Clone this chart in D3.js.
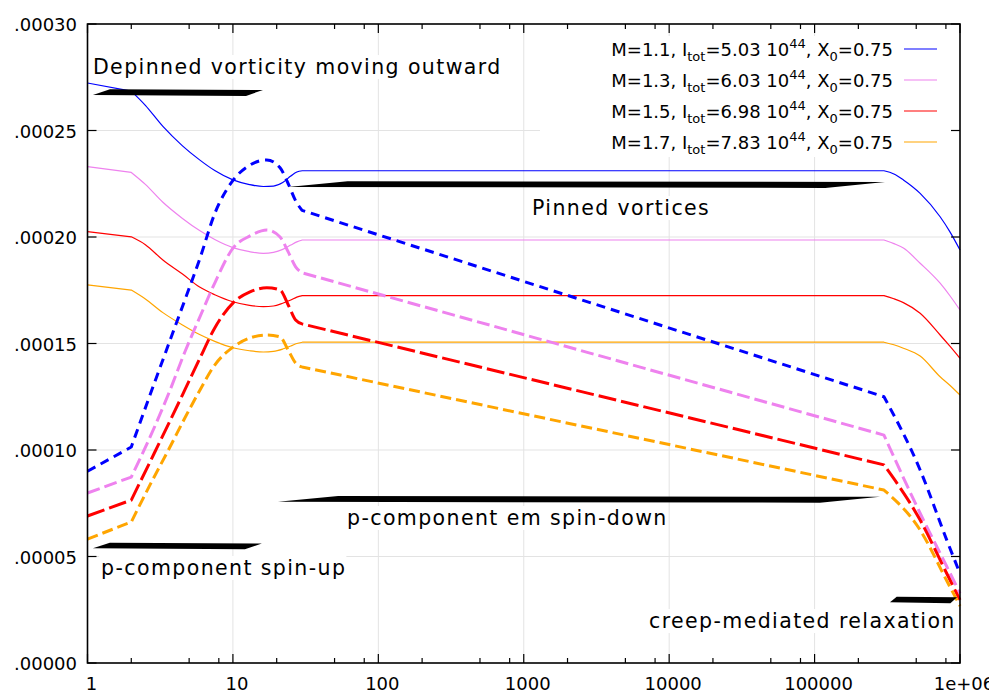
<!DOCTYPE html>
<html>
<head>
<meta charset="utf-8">
<script src="https://cdn.jsdelivr.net/npm/d3@7"></script>
<style>
  html, body { margin: 0; padding: 0; background: #fff; }
  svg { display: block; font-family: "DejaVu Sans", sans-serif; }
</style>
</head>
<body>
<svg id="chart" width="989" height="694"></svg>
<script>
// ---- data -------------------------------------------------------------
const xTicks = [1, 10, 100, 1000, 10000, 100000, 1000000];
const xTickLabels = ["1", "10", "100", "1000", "10000", "100000", "1e+06"];
const yTicks = [0, 0.00005, 0.0001, 0.00015, 0.0002, 0.00025, 0.0003];
const yTickLabels = [".00000", ".00005", ".00010", ".00015", ".00020", ".00025", ".00030"];

// total angular velocity lag (solid curves), shared time grid
const solidX = [1, 2, 2.5, 3.3, 4.5, 5.9, 7.5, 10, 13, 16.2, 19, 22, 25, 27.5, 30,
                300000, 351000, 408000, 532000, 730000, 855000, 1000000];
const solidM11 = [2.723e-4, 2.685e-4, 2.618e-4, 2.519e-4, 2.428e-4, 2.362e-4, 2.312e-4, 2.268e-4, 2.246e-4, 2.237e-4, 2.239e-4, 2.256e-4, 2.286e-4, 2.305e-4, 2.311e-4,
                  2.311e-4, 2.296e-4, 2.268e-4, 2.205e-4, 2.095e-4, 2.023e-4, 1.939e-4];
const solidM13 = [2.330e-4, 2.303e-4, 2.247e-4, 2.163e-4, 2.087e-4, 2.030e-4, 1.988e-4, 1.950e-4, 1.931e-4, 1.923e-4, 1.928e-4, 1.942e-4, 1.962e-4, 1.977e-4, 1.986e-4,
                  1.986e-4, 1.969e-4, 1.948e-4, 1.877e-4, 1.783e-4, 1.723e-4, 1.657e-4];
const solidM15 = [2.025e-4, 2.001e-4, 1.964e-4, 1.892e-4, 1.826e-4, 1.765e-4, 1.729e-4, 1.696e-4, 1.679e-4, 1.673e-4, 1.676e-4, 1.689e-4, 1.704e-4, 1.718e-4, 1.725e-4,
                  1.725e-4, 1.710e-4, 1.692e-4, 1.642e-4, 1.540e-4, 1.486e-4, 1.430e-4];
const solidM17 = [1.775e-4, 1.751e-4, 1.709e-4, 1.645e-4, 1.587e-4, 1.542e-4, 1.510e-4, 1.480e-4, 1.466e-4, 1.460e-4, 1.463e-4, 1.474e-4, 1.488e-4, 1.500e-4, 1.506e-4,
                  1.506e-4, 1.494e-4, 1.478e-4, 1.441e-4, 1.344e-4, 1.303e-4, 1.258e-4];

// p-component lag (dashed curves)
const dashX = [1, 2, 2.69, 3.69, 4.67, 5.94, 7.5, 10.07, 13.1, 17.1, 21.1, 24, 27, 29.9,
               300000, 532000, 811000, 1000000];
const dashM11 = [0.900e-4, 1.014e-4, 1.258e-4, 1.514e-4, 1.704e-4, 1.901e-4, 2.110e-4, 2.268e-4, 2.338e-4, 2.362e-4, 2.325e-4, 2.250e-4, 2.170e-4, 2.125e-4,
                 1.250e-4, 0.906e-4, 0.577e-4, 0.420e-4];
const dashM13 = [0.798e-4, 0.873e-4, 1.060e-4, 1.280e-4, 1.460e-4, 1.626e-4, 1.784e-4, 1.950e-4, 2.005e-4, 2.033e-4, 2.000e-4, 1.930e-4, 1.860e-4, 1.832e-4,
                 1.070e-4, 0.703e-4, 0.453e-4, 0.327e-4];
const dashM15 = [0.690e-4, 0.765e-4, 0.944e-4, 1.136e-4, 1.282e-4, 1.432e-4, 1.573e-4, 1.692e-4, 1.742e-4, 1.762e-4, 1.751e-4, 1.681e-4, 1.610e-4, 1.592e-4,
                 0.930e-4, 0.671e-4, 0.420e-4, 0.296e-4];
const dashM17 = [0.582e-4, 0.662e-4, 0.836e-4, 1.014e-4, 1.150e-4, 1.282e-4, 1.399e-4, 1.484e-4, 1.526e-4, 1.540e-4, 1.531e-4, 1.469e-4, 1.408e-4, 1.390e-4,
                 0.812e-4, 0.624e-4, 0.386e-4, 0.268e-4];

const seriesNames = ["1.1", "1.3", "1.5", "1.7"];
const seriesItot = ["5.03", "6.03", "6.98", "7.83"];
const seriesColors = ["#0000ff", "#ee82ee", "#ff0000", "#ffa500"];
const dashPatterns = ["9,6", "13,5", "18,5", "11,5"];
const solidSeries = [solidM11, solidM13, solidM15, solidM17];
const dashedSeries = [dashM11, dashM13, dashM15, dashM17];

// annotations: text and double arrows, in data coordinates
const labelTexts = ["Depinned vorticity moving outward", "Pinned vortices", "p-component em spin-down", "p-component spin-up", "creep-mediated relaxation"];
const labelX = [1.09, 1140, 60.9, 1.24, 7270];
const labelY = [2.765e-4, 2.103e-4, 0.648e-4, 0.413e-4, 0.164e-4];
const arrowFrom = [1.09, 23.9, 20.4, 1.09, 3.3e5];
const arrowTo = [16.1, 3.05e5, 2.82e5, 15.8, 9.55e5];
const arrowY = [2.678e-4, 2.246e-4, 0.768e-4, 0.549e-4, 0.296e-4];

// ---- layout -----------------------------------------------------------
const svg = d3.select("#chart");
const L = 87.5, R = 960, T = 24, B = 663;
const x = d3.scaleLog().domain([1, 1e6]).range([L, R]);
const y = d3.scaleLinear().domain([0, 0.0003]).range([B, T]);

// grid
const grid = svg.append("g").attr("stroke", "#e3e3e3").attr("stroke-width", 1);
grid.selectAll("line.gx").data(xTicks.slice(1, -1)).join("line")
  .attr("x1", d => x(d)).attr("x2", d => x(d)).attr("y1", T).attr("y2", B);
grid.selectAll("line.gy").data(yTicks.slice(1, -1)).join("line")
  .attr("x1", L).attr("x2", R).attr("y1", d => y(d)).attr("y2", d => y(d));

// piecewise path: straight pieces stay straight, bends are smoothed,
// all joined into one subpath so dashes run continuously
function piecewisePath(xs, vs, pieces) {
  const pts = xs.map((t, k) => [x(t), y(vs[k])]);
  return pieces.map(([a, b, smooth], j) => {
    const d = d3.line().curve(smooth ? d3.curveMonotoneX : d3.curveLinear)(pts.slice(a, b + 1));
    return j === 0 ? d : d.replace(/^M/, "L");
  }).join("");
}
const solidPieces = [[0, 1, false], [1, 14, true], [14, 15, false], [15, 21, true]];
const dashPieces = [[0, 1, false], [1, 13, true], [13, 14, false], [14, 17, true]];

const plot = svg.append("g").attr("stroke-linejoin", "round").attr("fill", "none");
solidSeries.forEach((vals, i) => {
  plot.append("path").attr("d", piecewisePath(solidX, vals, solidPieces))
    .attr("stroke", seriesColors[i]).attr("stroke-width", 1.2);
});
dashedSeries.forEach((vals, i) => {
  plot.append("path").attr("d", piecewisePath(dashX, vals, dashPieces))
    .attr("stroke", seriesColors[i]).attr("stroke-width", 3)
    .attr("stroke-dasharray", dashPatterns[i]);
});

// annotation labels with opaque background
const labels = svg.append("g").attr("font-size", 20.5).attr("fill", "#000");
labelTexts.forEach((txt, i) => {
  const g = labels.append("g");
  const t = g.append("text").attr("x", x(labelX[i])).attr("y", y(labelY[i]))
    .attr("letter-spacing", 1.4).text(txt);
  const bb = t.node().getBBox();
  g.insert("rect", "text").attr("x", bb.x - 2).attr("y", bb.y)
    .attr("width", bb.width + 2).attr("height", bb.height).attr("fill", "#fff");
});

// double arrows drawn as slanted filled bars
const arrows = svg.append("g").attr("fill", "#000");
arrowFrom.forEach((a, i) => {
  const x1 = x(a), x2 = x(arrowTo[i]), yc = y(arrowY[i]);
  const len = x2 - x1, s = Math.min(70, 0.1 * len), h = 3.3;
  const pts = [[x1, yc + h * 0.7], [x1 + s, yc - h], [x2, yc - h * 0.8], [x2 - s, yc + h]];
  arrows.append("path").attr("d", d3.line()(pts) + "Z");
});

// legend with opaque box
const legend = svg.append("g").attr("font-size", 18);
legend.append("rect").attr("x", 540).attr("y", 36).attr("width", 412).attr("height", 121).attr("fill", "#fff");
seriesNames.forEach((m, i) => {
  const cy = 49 + i * 31;
  const t = legend.append("text").attr("x", 893).attr("y", cy + 7).attr("text-anchor", "end");
  t.append("tspan").text(`M=${m}, I`);
  t.append("tspan").attr("font-size", 13).attr("dy", 5).text("tot");
  t.append("tspan").attr("dy", -5).text(`=${seriesItot[i]} 10`);
  t.append("tspan").attr("font-size", 13).attr("dy", -8).text("44");
  t.append("tspan").attr("dy", 8).text(", X");
  t.append("tspan").attr("font-size", 13).attr("dy", 5).text("0");
  t.append("tspan").attr("dy", -5).text("=0.75");
  legend.append("line").attr("x1", 904).attr("x2", 937).attr("y1", cy).attr("y2", cy)
    .attr("stroke", seriesColors[i]).attr("stroke-width", 1.2);
});

// frame and ticks
const frame = svg.append("g").attr("stroke", "#000");
frame.append("rect").attr("x", L).attr("y", T).attr("width", R - L).attr("height", B - T)
  .attr("fill", "none").attr("stroke-width", 1.6);
const minor = [];
for (let e = 0; e < 6; e++) [2, 5, 8].forEach(m => minor.push(m * Math.pow(10, e)));
frame.selectAll("line.xt").data(xTicks).join("line")
  .attr("x1", d => x(d)).attr("x2", d => x(d)).attr("y1", B).attr("y2", B - 9).attr("stroke-width", 1.2);
frame.selectAll("line.xt2").data(xTicks).join("line")
  .attr("x1", d => x(d)).attr("x2", d => x(d)).attr("y1", T).attr("y2", T + 9).attr("stroke-width", 1.2);
frame.selectAll("line.xm").data(minor).join("line")
  .attr("x1", d => x(d)).attr("x2", d => x(d)).attr("y1", B).attr("y2", B - 5).attr("stroke-width", 1.2);
frame.selectAll("line.xm2").data(minor).join("line")
  .attr("x1", d => x(d)).attr("x2", d => x(d)).attr("y1", T).attr("y2", T + 5).attr("stroke-width", 1.2);
frame.selectAll("line.yt").data(yTicks).join("line")
  .attr("x1", L).attr("x2", L + 9).attr("y1", d => y(d)).attr("y2", d => y(d)).attr("stroke-width", 1.2);
frame.selectAll("line.yt2").data(yTicks).join("line")
  .attr("x1", R).attr("x2", R - 9).attr("y1", d => y(d)).attr("y2", d => y(d)).attr("stroke-width", 1.2);

// tick labels (the last one runs off the right edge, as in the original figure)
const tl = svg.append("g").attr("font-size", 18).attr("fill", "#000");
tl.selectAll("text.xl").data(xTicks).join("text")
  .attr("x", d => x(d) + 4).attr("y", 690).attr("text-anchor", "middle")
  .text((d, i) => xTickLabels[i]);
tl.selectAll("text.yl").data(yTicks).join("text")
  .attr("x", 77).attr("y", d => y(d) + 7).attr("text-anchor", "end")
  .text((d, i) => yTickLabels[i]);
</script>
</body>
</html>
